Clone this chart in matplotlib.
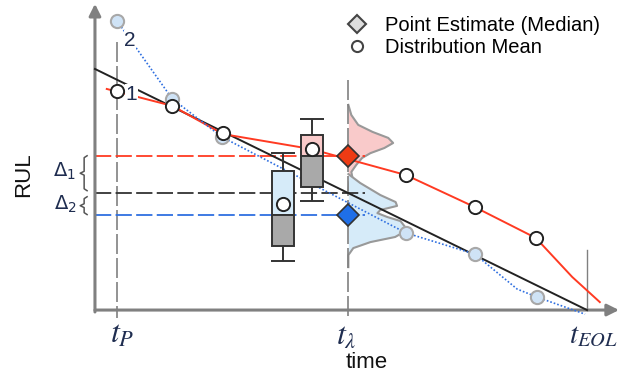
import matplotlib.pyplot as plt
import numpy as np
from matplotlib.lines import Line2D

# ---- data (time / RUL units, black reference line is RUL = 100 - t) ----
t_P = 4.5
t_lam = 51.5
t_EOL = 100.0

# true RUL line
true_t = [0.0, 100.0]
true_rul = [100.0, 0.0]

# prediction 1 (distribution means, red)
mean_t = [2.4, 15.7, 26.0, 43.9, 63.2, 77.2, 89.6, 97.0, 102.6]
mean_rul = [91.7, 84.7, 73.0, 66.8, 56.0, 42.7, 29.9, 13.7, 3.3]
mean_marks_t = [4.5, 15.7, 26.0, 63.2, 77.2, 89.6]
mean_marks_rul = [91.0, 84.7, 73.6, 56.0, 42.7, 29.9]

# prediction 2 (point estimates, blue dotted)
est_t = [4.5, 15.7, 25.8, 63.2, 77.2, 85.8, 89.8, 99.6]
est_rul = [119.9, 87.6, 71.8, 32.0, 23.2, 8.7, 5.4, -1.7]
est_marks_t = [4.5, 15.7, 25.8, 63.2, 77.2, 89.8]
est_marks_rul = [119.9, 87.6, 71.8, 32.0, 23.2, 5.4]

# box plots at t_lambda (whislo, q1, med, q3, whishi, mean)
box_red = dict(t=44.1, whislo=45.2, q1=51.0, med=64.0, q3=72.6, whishi=79.3, mean=66.8)
box_blue = dict(t=38.2, whislo=20.3, q1=26.6, med=39.6, q3=57.7, whishi=65.1, mean=44.0)

# densities at t_lambda
dens_red_rul = [85.1, 80.9, 76.8, 73.9, 71.4, 69.3, 67.2, 65.1, 63.1, 60.2, 57.3, 55.2, 53.1, 49.8]
dens_red = [0, 0.6, 2.0, 4.9, 8.1, 9.1, 7.3, 4.5, 2.8, 1.6, 0.6, 0.8, 0.2, 0]
dens_blue_rul = [56.4, 52.7, 47.7, 44.8, 43.2, 41.5, 40.2, 38.6, 36.9, 33.2, 30.3, 28.2, 25.7, 22.8, 17.8]
dens_blue = [0, 2.4, 6.5, 9.6, 9.9, 6.5, 5.9, 7.9, 10.6, 12.0, 9.5, 4.5, 1.0, 0, 0]

# medians (point estimates) at t_lambda
med_red = 64.0
med_blue = 39.6
true_at_lam = 100.0 - t_lam

# ---- figure ----
fig = plt.figure(figsize=(6.19, 3.79), dpi=100)
ax = fig.add_axes([0, 0, 1, 1])
ax.set_xlim(-19.3, 106.5)
ax.set_ylim(-28.6, 128.6)
ax.axis('off')

gray = '#808080'
red = '#ff3a22'
blue = '#2f6fe0'

# axes with arrows
ax.annotate('', xy=(106.5, 0), xytext=(0, 0),
            arrowprops=dict(arrowstyle='-|>,head_length=0.7,head_width=0.35',
                            color=gray, lw=2.2, shrinkA=0, shrinkB=0))
ax.annotate('', xy=(0, 127), xytext=(0, -0.8),
            arrowprops=dict(arrowstyle='-|>,head_length=0.7,head_width=0.35',
                            color=gray, lw=2.2, shrinkA=0, shrinkB=0))

# vertical dashed markers
ax.plot([t_P, t_P], [111, -3.3], color=gray, lw=1.2, dashes=(12, 2.4))
ax.plot([t_lam, t_lam], [95.4, -3.3], color=gray, lw=1.2, dashes=(12, 2.4))
ax.plot([t_EOL, t_EOL], [25, 0], color=gray, lw=1.0)

# horizontal dashed levels
ax.plot([0, 54.9], [med_red, med_red], color=red, lw=1.3, dashes=(9, 2.4), zorder=2)
ax.plot([0, 54.9], [true_at_lam, true_at_lam], color='#333333', lw=1.3, dashes=(9, 2.4), zorder=2)
ax.plot([0, 54.9], [med_blue, med_blue], color=blue, lw=1.3, dashes=(9, 2.4), zorder=2)

# densities
ax.fill_betweenx(dens_red_rul, t_lam, t_lam + np.array(dens_red), color='#f9caca', lw=0, zorder=1)
ax.plot(t_lam + np.array(dens_red), dens_red_rul, color='#999999', lw=1.5, zorder=1)
ax.fill_betweenx(dens_blue_rul, t_lam, t_lam + np.array(dens_blue), color='#d6ebf9', lw=0, zorder=1)
ax.plot(t_lam + np.array(dens_blue), dens_blue_rul, color='#999999', lw=1.5, zorder=1)

# lines
ax.plot(true_t, true_rul, color='#222222', lw=1.4, zorder=3)
ax.plot(mean_t, mean_rul, color=red, lw=1.4, zorder=3)
ax.plot(est_t, est_rul, color=blue, lw=1.2, ls=(0, (1, 1.2)), zorder=3)

# labels 1, 2
ax.text(7.4, 89.5, '1', fontsize=15, color='#1f2d50', ha='center', va='center',
        family='Liberation Sans', zorder=4,
        bbox=dict(facecolor='white', edgecolor='none', pad=0.5))
ax.text(7.1, 112, '2', fontsize=15, color='#1f2d50', ha='center', va='center',
        family='Liberation Sans', zorder=4,
        bbox=dict(facecolor='white', edgecolor='none', pad=0.5))

ax.plot(est_marks_t, est_marks_rul, ls='none', marker='o', ms=9.5, mfc='#cfe3f6',
        mec='#a8a8a8', mew=1.5, zorder=5)
ax.plot(mean_marks_t, mean_marks_rul, ls='none', marker='o', ms=9.5, mfc='white',
        mec='#222222', mew=1.4, zorder=6)

# boxes
def draw_box(b, upper_color):
    w = 4.5
    cap = 5.0
    ax.vlines(b['t'], b['q3'], b['whishi'], color='#333333', lw=1.4, zorder=6)
    ax.vlines(b['t'], b['whislo'], b['q1'], color='#333333', lw=1.4, zorder=6)
    ax.hlines([b['whishi'], b['whislo']], b['t'] - cap / 2, b['t'] + cap / 2,
              color='#333333', lw=1.4, zorder=6)
    ax.bar(b['t'], b['q3'] - b['med'], bottom=b['med'], width=w, color=upper_color,
           edgecolor='#333333', lw=1.4, zorder=6)
    ax.bar(b['t'], b['med'] - b['q1'], bottom=b['q1'], width=w, color='#a9a9a9',
           edgecolor='#333333', lw=1.4, zorder=6)
    ax.plot(b['t'], b['mean'], marker='o', ms=9.5, mfc='white', mec='#222222', mew=1.4, zorder=7)

draw_box(box_red, '#f9caca')
draw_box(box_blue, '#d6ebf9')

# point estimates
ax.plot(t_lam, med_red, marker='D', ms=11, mfc='#ee3b14', mec='#333333', mew=1.2, zorder=8)
ax.plot(t_lam, med_blue, marker='D', ms=11, mfc='#1f6fe8', mec='#333333', mew=1.2, zorder=8)

# braces for deltas
def brace(y_top, y_bot, x_in=-1.6, x_out=-3.0):
    ym = (y_top + y_bot) / 2
    xm = (x_in + x_out) / 2 + 0.1
    xs = [x_in, xm, xm, x_out, xm, xm, x_in]
    ys = [y_top, y_top - 0.8, ym + 0.8, ym, ym - 0.8, y_bot + 0.8, y_bot]
    ax.plot(xs, ys, color='#555555', lw=1.1)

brace(med_red, true_at_lam + 1.0)
brace(true_at_lam - 1.5, med_blue)
ax.text(-6.1, 57.5, r'$\Delta_1$', fontsize=14, ha='center', va='center', color='#1f2d50')
ax.text(-6.1, 44.0, r'$\Delta_2$', fontsize=14, ha='center', va='center', color='#1f2d50')

# axis labels
ax.text(-14.6, 56, 'RUL', fontsize=16, rotation=90, ha='center', va='center',
        family='Liberation Sans', color='#111111')
ax.text(55.3, -21.8, 'time', fontsize=16, ha='center', va='center',
        family='Liberation Sans', color='#111111')
ax.text(5.6, -10.0, r'$t_P$', fontsize=23, ha='center', va='center', math_fontfamily='stix',
        color='#1f2d50')
ax.text(51.0, -10.4, r'$t_\lambda$', fontsize=23, ha='center', va='center', math_fontfamily='stix',
        color='#1f2d50')
ax.text(106.2, -10.4, r'$t_{EOL}$', fontsize=21, ha='right', va='center', math_fontfamily='stix',
        color='#1f2d50')

# legend
handles = [
    Line2D([], [], ls='none', marker='D', ms=9, mfc='#dddddd', mec='#444444', mew=1.5),
    Line2D([], [], ls='none', marker='o', ms=8, mfc='white', mec='#444444', mew=1.5),
]
ax.legend(handles, ['Point Estimate (Median)', 'Distribution Mean'], loc='upper left',
          bbox_to_anchor=(0.538, 0.995), frameon=False, prop=dict(family='Liberation Sans', size=14.5),
          handlelength=1.0, handletextpad=0.9, labelspacing=0.15, borderaxespad=0.3)

fig.savefig('out.png', dpi=100)
